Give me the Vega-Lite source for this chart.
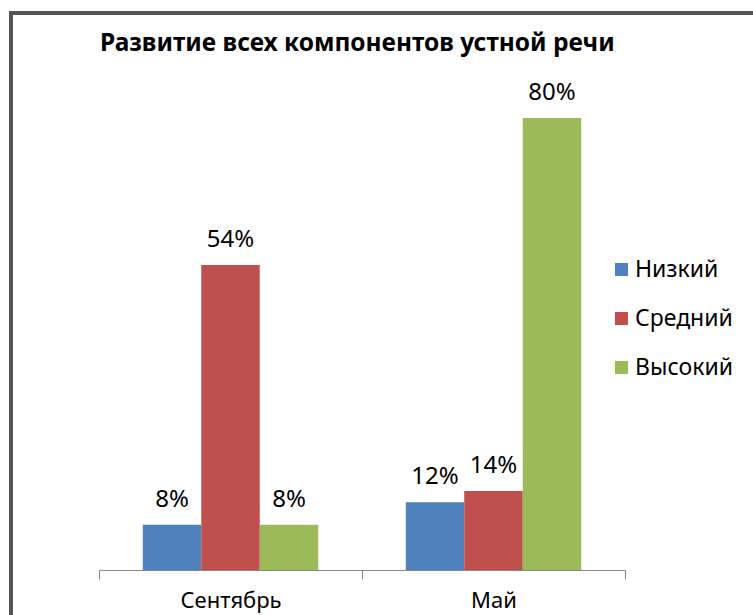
{
  "$schema": "https://vega.github.io/schema/vega-lite/v6.json",
  "width": 760,
  "height": 640,
  "autosize": {"type": "none"},
  "padding": {"left": 11, "top": 13, "right": 0, "bottom": 0},
  "background": "white",
  "config": {
    "view": {"stroke": "#555555", "strokeWidth": 4},
    "font": "Noto Sans"
  },
  "title": {
    "text": "Развитие всех компонентов устной речи",
    "anchor": "start",
    "frame": "group",
    "offset": 0,
    "baseline": "alphabetic",
    "dx": 89,
    "dy": 62,
    "fontSize": 24.5,
    "fontWeight": "bold",
    "font": "Noto Sans",
    "color": "#000000"
  },
  "data": {
    "values": [
      {"period": "Сентябрь", "level": "Низкий", "value": 0.08},
      {"period": "Сентябрь", "level": "Средний", "value": 0.54},
      {"period": "Сентябрь", "level": "Высокий", "value": 0.08},
      {"period": "Май", "level": "Низкий", "value": 0.12},
      {"period": "Май", "level": "Средний", "value": 0.14},
      {"period": "Май", "level": "Высокий", "value": 0.80}
    ]
  },
  "encoding": {
    "x": {
      "field": "period",
      "type": "nominal",
      "sort": ["Сентябрь", "Май"],
      "scale": {"range": [88, 614], "paddingInner": 0, "paddingOuter": 0},
      "axis": {
        "title": null,
        "orient": "bottom",
        "offset": -83,
        "labelAngle": 0,
        "labelFontSize": 22,
        "labelColor": "#000000",
        "labelPadding": 11,
        "domainColor": "#868686",
        "tickColor": "#868686",
        "tickSize": 9,
        "tickBand": "extent",
        "grid": false
      }
    },
    "xOffset": {
      "field": "level",
      "type": "nominal",
      "sort": ["Низкий", "Средний", "Высокий"],
      "scale": {"paddingInner": 0, "paddingOuter": 0.748}
    },
    "y": {
      "field": "value",
      "type": "quantitative",
      "scale": {"domain": [0, 0.8], "range": [557, 105], "zero": true, "nice": false},
      "axis": null
    }
  },
  "layer": [
    {
      "mark": {"type": "bar"},
      "encoding": {
        "color": {
          "field": "level",
          "type": "nominal",
          "sort": ["Низкий", "Средний", "Высокий"],
          "scale": {
            "domain": ["Низкий", "Средний", "Высокий"],
            "range": ["#4F81BD", "#C0504D", "#9BBB59"]
          },
          "legend": {
            "title": null,
            "orient": "none",
            "legendX": 599,
            "legendY": 245,
            "symbolType": "square",
            "symbolSize": 170,
            "symbolStrokeWidth": 0,
            "labelFontSize": 23,
            "labelColor": "#000000",
            "labelOffset": 2,
            "rowPadding": 25,
            "padding": 0
          }
        }
      }
    },
    {
      "mark": {
        "type": "text",
        "baseline": "alphabetic",
        "dy": -18,
        "fontSize": 24,
        "color": "#000000"
      },
      "encoding": {
        "text": {"field": "value", "type": "quantitative", "format": ".0%"}
      }
    }
  ]
}
